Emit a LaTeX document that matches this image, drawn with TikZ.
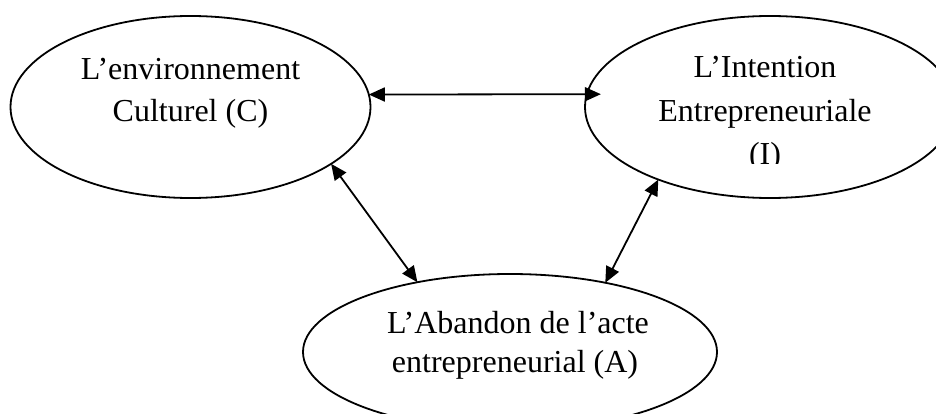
\documentclass[tikz,border=0pt]{standalone}
\usepackage{fontspec}
\setmainfont{Liberation Serif}
\usetikzlibrary{shapes.geometric,arrows.meta}
\begin{document}
\begin{tikzpicture}[x=1pt,y=-1pt,
  oval/.style={draw,ellipse,line width=1.8pt,inner sep=0pt,outer sep=0pt},
  lbl/.style={font=\fontsize{32}{43}\selectfont,inner sep=0pt,anchor=base},
  link/.style={line width=1.8pt,{Triangle[length=16pt,width=14pt]}-{Triangle[length=16pt,width=14pt]}}]
\clip (0,0) rectangle (936,414);
\fill[white] (0,0) rectangle (936,414);
\node[oval,minimum width=360pt,minimum height=182pt] (C) at (190.5,107) {};
\node[oval,minimum width=370pt,minimum height=182pt] (I) at (770,107) {};
\node[oval,minimum width=414pt,minimum height=156pt] (A) at (510,352) {};
\node[lbl] (c1) at (190.5,80) {L’environnement};
\node[lbl] (c2) at (190.5,122) {Culturel (C)};
\node[lbl] (i1) at (765,78) {L’Intention};
\node[lbl] (i2) at (765,122) {Entrepreneuriale};
\begin{scope}
\clip (600,130) rectangle (930,163.5);
\node[lbl] (i3) at (765,165) {(I)};
\end{scope}
\node[lbl] (a1) at (518,333) {L’Abandon de l’acte};
\node[lbl] (a2) at (515,372) {entrepreneurial (A)};
\draw[link] (C.4) -- ([xshift=14pt]I.176);
\draw[link] (C.-22) -- (A.143);
\draw[link] (I.213) -- (A.36);
\end{tikzpicture}
\end{document}
